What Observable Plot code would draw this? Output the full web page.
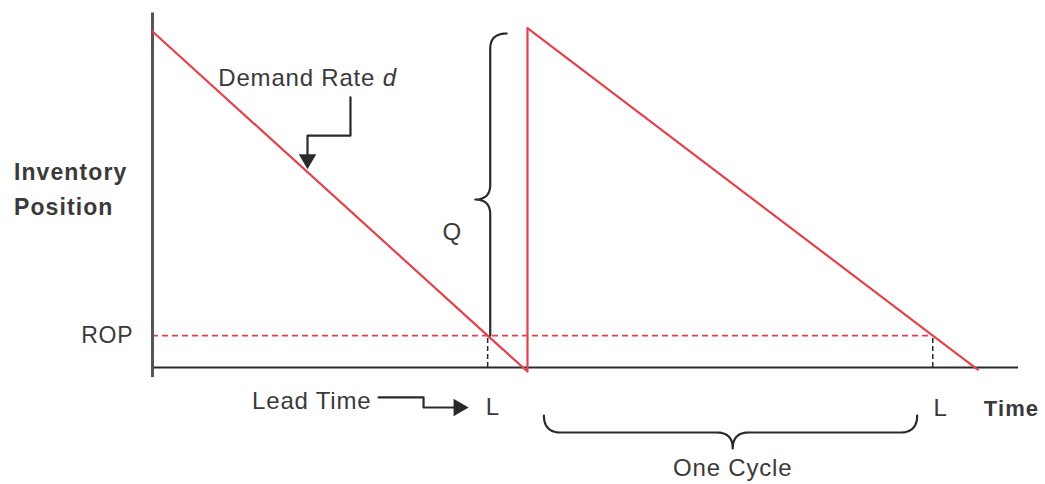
<!DOCTYPE html>
<html>
<head>
<meta charset="utf-8">
<script src="https://cdn.jsdelivr.net/npm/d3@7"></script>
<script src="https://cdn.jsdelivr.net/npm/@observablehq/plot@0.6"></script>
<style>
  html, body { margin: 0; padding: 0; background: #fff; }
  #chart svg { display: block; }
  #chart svg text { letter-spacing: 0.8px; }
  #chart svg text[font-weight="bold"], #chart svg g[font-weight="bold"] text { letter-spacing: 1.1px; }
</style>
</head>
<body>
<div id="chart"></div>
<script>
// ---- Data (time units 0..100, inventory units 0..100) ----
const sawTime      = [0, 38.7, 43.3, 43.3, 90.1, 95.3];
const sawInventory = [100, 9.5, -1.2, 101, 9.5, -0.6];
const ropLevel = 9.5;
const leadTimes = [38.7, 90.1];          // reorder moments (L)
const qBraceTime = 39.0;                 // Q brace position
const qTop = 99.4;
const qMid = 50;
const cycleStart = 45.2, cycleEnd = 88.3, cycleMid = 67.0;

// ---- Labels ----
const labelTexts = ["Inventory", "Position", "ROP", "Q", "Lead Time", "L", "L", "One Cycle"];
const labelT     = [-16.0, -16.0, -2.2, 34.6, 11.5, 39.3, 91.0, 67.0];
const labelInv   = [58.0, 47.6, 9.5, 40.2, -10.1, -11.9, -12.2, -30.0];
const labelWeight= ["bold", "bold", "normal", "normal", "normal", "normal", "normal", "normal"];
const labelAnchor= ["start", "start", "end", "middle", "start", "middle", "middle", "middle"];

const X_RANGE = [152, 1018], Y_RANGE = [367, 31];
const pxT = (X_RANGE[1] - X_RANGE[0]) / 100;   // px per time unit
const pxI = (Y_RANGE[0] - Y_RANGE[1]) / 100;   // px per inventory unit

// sample a path made of L / Q commands (annotation geometry)
function samplePath(cmds) {
  const pts = [];
  let cur = null;
  for (const c of cmds) {
    if (c[0] === "M" || c[0] === "L") { cur = [c[1], c[2]]; pts.push(cur); }
    else if (c[0] === "Q") {
      const [_, cx, cy, x, y] = c, p0 = cur;
      for (let i = 1; i <= 12; i++) {
        const s = i / 12, u = 1 - s;
        pts.push([u*u*p0[0] + 2*u*s*cx + s*s*x, u*u*p0[1] + 2*u*s*cy + s*s*y]);
      }
      cur = [x, y];
    }
  }
  return pts.map(([t, v]) => ({t, v}));
}
const rT = 15 / pxT, rI = 15 / pxI;   // curl radius
const qBrace = samplePath([
  ["M", qBraceTime, ropLevel],
  ["L", qBraceTime, qMid - rI],
  ["Q", qBraceTime, qMid, qBraceTime - rT, qMid],
  ["Q", qBraceTime, qMid, qBraceTime, qMid + rI],
  ["L", qBraceTime, qTop - rI],
  ["Q", qBraceTime, qTop, qBraceTime + rT * 1.1, qTop]
]);
const cyTop = -14.3, cyBar = -19.35, cyTip = -24.1;
const cycleBrace = samplePath([
  ["M", cycleStart, cyTop],
  ["Q", cycleStart, cyBar, cycleStart + 17 / pxT, cyBar],
  ["L", cycleMid - 16 / pxT, cyBar],
  ["Q", cycleMid, cyBar, cycleMid, cyTip],
  ["Q", cycleMid, cyBar, cycleMid + 16 / pxT, cyBar],
  ["L", cycleEnd - 17 / pxT, cyBar],
  ["Q", cycleEnd, cyBar, cycleEnd, cyTop]
]);

// arrows
const demandArrowT = [22.86, 22.86, 17.9, 17.9];
const demandArrowI = [80.4, 69.0, 69.0, 62.0];
const leadArrowT = [26.1, 31.3, 31.3, 35.0];
const leadArrowI = [-8.9, -8.9, -11.9, -11.9];

const sawData = sawTime.map((t, i) => ({t, v: sawInventory[i]}));
const labels = labelTexts.map((s, i) => ({s, t: labelT[i], v: labelInv[i], w: labelWeight[i], a: labelAnchor[i]}));
const demandArrow = demandArrowT.map((t, i) => ({t, v: demandArrowI[i]}));
const leadArrow = leadArrowT.map((t, i) => ({t, v: leadArrowI[i]}));

const RED = "#e3414c", INK = "#2a2a2a", TXT = "#3a3a3a";
const FONT = "Liberation Sans, Arial, Helvetica, sans-serif";

const textMark = (data, opts) => Plot.text(data, {x: "t", y: "v", text: "s", fill: TXT, fontFamily: FONT, fontSize: 24, ...opts});

const chart = Plot.plot({
  width: 1045,
  height: 484,
  x: {domain: [0, 100], range: X_RANGE, axis: null},
  y: {domain: [0, 100], range: Y_RANGE, axis: null},
  style: {background: "#fff", fontFamily: FONT},
  marks: [
    // ROP dashed line
    Plot.ruleY([ropLevel], {x1: 0, x2: leadTimes[1], stroke: RED, strokeWidth: 1.8, strokeDasharray: "6,4"}),
    // lead time dashed verticals
    Plot.ruleX(leadTimes, {y1: 0, y2: ropLevel, stroke: INK, strokeWidth: 1.5, strokeDasharray: "5,3"}),
    // axes
    Plot.ruleY([0], {x1: 0, x2: 100, stroke: INK, strokeWidth: 2.2}),
    Plot.ruleX([0], {y1: -3, y2: 105.5, stroke: "#555", strokeWidth: 3}),
    // sawtooth
    Plot.line(sawData, {x: "t", y: "v", stroke: RED, strokeWidth: 2.2}),
    // braces
    Plot.line(qBrace, {x: "t", y: "v", stroke: INK, strokeWidth: 2.2}),
    Plot.line(cycleBrace, {x: "t", y: "v", stroke: INK, strokeWidth: 2.2}),
    // arrows
    Plot.line(demandArrow, {x: "t", y: "v", stroke: INK, strokeWidth: 2.2}),
    Plot.dot([demandArrow[3]], {x: "t", y: "v", symbol: "triangle", r: 6.5, fill: INK, stroke: "none", rotate: 180}),
    Plot.line(leadArrow, {x: "t", y: "v", stroke: INK, strokeWidth: 2.2}),
    Plot.dot([leadArrow[3]], {x: "t", y: "v", symbol: "triangle", r: 6.5, fill: INK, stroke: "none", rotate: 90, dx: 3}),
    // labels
    textMark(labels.filter(d => d.w === "bold"), {fontWeight: "bold", textAnchor: "start", fontSize: 23}),
    textMark(labels.filter(d => d.w !== "bold" && d.a === "end"), {textAnchor: "end", fontSize: 23}),
    textMark(labels.filter(d => d.w !== "bold" && d.a === "start"), {textAnchor: "start"}),
    textMark(labels.filter(d => d.w !== "bold" && d.a === "middle"), {textAnchor: "middle"}),
    textMark([{s: "Time", t: 96.0, v: -12.2}], {fontWeight: "bold", textAnchor: "start", fontSize: 22}),
    textMark([{s: "Demand Rate", t: 7.6, v: 86.0}], {textAnchor: "start"}),
    textMark([{s: "d", t: 26.6, v: 86.0}], {textAnchor: "start", fontStyle: "italic"})
  ]
});
document.getElementById("chart").appendChild(chart);
</script>
</body>
</html>
